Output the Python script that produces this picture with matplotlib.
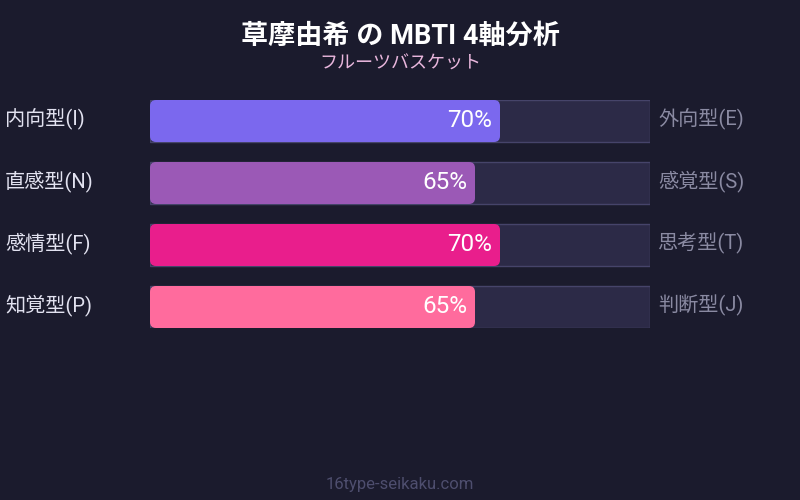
import matplotlib
matplotlib.use("Agg")
import matplotlib.pyplot as plt
from matplotlib.patches import FancyBboxPatch, Rectangle

plt.rcParams['font.family'] = ['Roboto', 'Noto Sans CJK JP', 'DejaVu Sans']

title = "草摩由希 の MBTI 4軸分析"
subtitle = "フルーツバスケット"
footer = "16type-seikaku.com"
left_labels = ["内向型(I)", "直感型(N)", "感情型(F)", "知覚型(P)"]
right_labels = ["外向型(E)", "感覚型(S)", "思考型(T)", "判断型(J)"]
values = [70, 65, 70, 65]
colors = ["#7b68ee", "#9b59b6", "#e91e8c", "#ff6b9d"]

bg = "#1b1b2d"
W, H = 800, 500
fig = plt.figure(figsize=(8, 5), dpi=100, facecolor=bg)

# track area in pixels: x 150..650, y 100..328, row pitch 62, bar height 42
half = 21 / 62
ax = fig.add_axes([150 / W, (H - 328) / H, 500 / W, 228 / H])
ax.set_xlim(0, 100)
ax.set_ylim(len(values) - 1 + half, -half)
ax.axis("off")
ax.set_facecolor(bg)

bh = 42 / 62
r = 1.2  # ~6px in x units
aspect = (1 / 62) / (100 / 500)

for i, (v, c) in enumerate(zip(values, colors)):
    ax.add_patch(Rectangle((0, i - bh / 2), 100, bh, facecolor="#2c2a47",
                           edgecolor="#46446a", lw=1, zorder=1))
    ax.add_patch(FancyBboxPatch((0, i - bh / 2), v, bh,
                                boxstyle=f"round,pad=0,rounding_size={r}",
                                mutation_aspect=aspect, facecolor=c,
                                edgecolor="none", zorder=2))
    ax.text(v - 1.6, i - 0.01, f"{v}%", ha="right", va="center", color="white",
            fontsize=17.5, zorder=3)
    ax.text(-29, i - 0.03, left_labels[i], ha="left", va="center", color="#e2e2f0",
            fontsize=14.5, clip_on=False)
    ax.text(101.6, i - 0.03, right_labels[i], ha="left", va="center", color="#8a8aa2",
            fontsize=14.5, clip_on=False)

fig.text(0.5, 1 - 36 / H, title, ha="center", va="center", color="white",
         fontsize=19.5, fontweight="bold")
fig.text(0.5, 1 - 64 / H, subtitle, ha="center", va="center", color="#e8b6dc",
         fontsize=13)
fig.text(0.5, 1 - 485 / H, footer, ha="center", va="center", color="#4e4e6e",
         fontsize=12)

fig.savefig("out.png", dpi=100, facecolor=bg)
